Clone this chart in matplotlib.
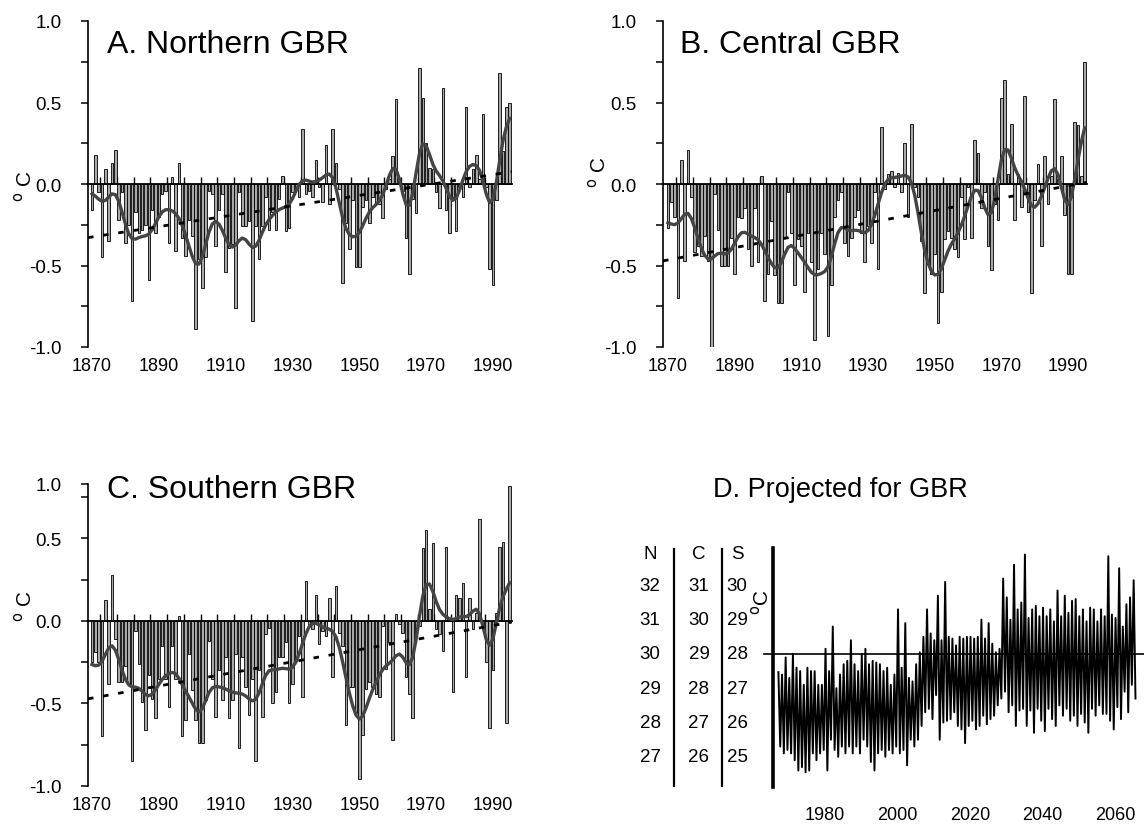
import matplotlib.pyplot as plt
import numpy as np
from matplotlib.ticker import FixedLocator, FixedFormatter, MultipleLocator

plt.rcParams["font.family"] = ["Liberation Sans", "DejaVu Sans"]
plt.rcParams["axes.unicode_minus"] = False

# annual SST anomalies (deg C), 1870-1995
years = np.arange(1870, 1996)

north_anom = [
    -0.16, 0.18, -0.05, -0.45, 0.09, -0.35, 0.13, 0.21, -0.22, -0.05,
    -0.36, -0.25, -0.72, -0.17, -0.30, -0.28, -0.25, -0.59, -0.16, -0.30,
    -0.20, -0.06, -0.04, -0.36, 0.04, -0.41, 0.13, -0.33, -0.44, -0.22,
    -0.32, -0.89, -0.46, -0.64, -0.45, -0.04, -0.06, -0.38, -0.16, -0.06,
    -0.54, -0.39, -0.37, -0.76, -0.05, -0.26, -0.26, -0.23, -0.84, -0.26,
    -0.46, -0.26, -0.08, -0.28, -0.17, -0.28, -0.09, 0.05, -0.29, -0.27,
    -0.05, -0.03, -0.08, 0.34, -0.06, -0.04, -0.08, 0.15, -0.02, -0.11,
    0.24, -0.12, 0.34, 0.13, -0.03, -0.61, -0.24, -0.40, -0.10, -0.51,
    -0.51, -0.14, -0.10, -0.24, -0.08, -0.11, -0.12, -0.21, -0.03, 0.03,
    0.17, 0.52, 0.02, -0.04, -0.33, -0.55, -0.09, -0.18, 0.71, 0.53,
    0.25, 0.10, 0.09, -0.05, -0.15, 0.59, -0.16, -0.30, -0.08, -0.29,
    -0.02, -0.08, 0.47, -0.02, 0.09, 0.18, 0.03, 0.43, -0.02, -0.52,
    -0.62, -0.10, 0.68, 0.20, 0.47, 0.50,
]

central_anom = [
    -0.27, -0.11, -0.20, -0.70, 0.15, -0.47, 0.21, -0.08, -0.42, -0.38,
    -0.44, -0.32, -0.47, -1.00, -0.06, -0.28, -0.50, -0.50, -0.50, -0.33,
    -0.55, -0.20, -0.21, -0.15, -0.40, -0.50, -0.15, -0.48, 0.05, -0.72,
    -0.55, -0.23, -0.56, -0.73, -0.73, -0.33, -0.05, -0.30, -0.62, -0.34,
    -0.38, -0.66, -0.30, -0.48, -0.96, -0.52, -0.30, -0.43, -0.93, -0.62,
    -0.20, -0.10, -0.05, -0.36, -0.44, -0.33, -0.20, -0.16, -0.30, -0.48,
    -0.26, -0.36, -0.05, -0.52, 0.35, -0.03, 0.06, 0.08, -0.02, 0.07,
    -0.05, 0.25, -0.20, 0.37, -0.02, -0.08, -0.35, -0.67, -0.48, -0.55,
    -0.43, -0.85, -0.66, -0.34, -0.29, -0.33, -0.40, -0.45, -0.08, -0.34,
    -0.02, -0.33, 0.27, 0.19, -0.15, -0.05, -0.38, -0.53, -0.12, -0.22,
    0.53, 0.64, 0.06, 0.37, -0.22, 0.06, -0.14, 0.54, -0.17, -0.67,
    -0.10, 0.12, -0.38, 0.17, -0.12, 0.05, 0.52, 0.03, 0.17, -0.19,
    -0.55, -0.55, 0.38, 0.36, 0.05, 0.75,
]

south_anom = [
    -0.25, -0.19, -0.25, -0.70, 0.13, -0.38, 0.28, -0.11, -0.37, -0.37,
    -0.27, -0.38, -0.85, -0.06, -0.26, -0.49, -0.66, -0.33, -0.47, -0.59,
    -0.35, -0.15, -0.35, -0.52, -0.15, -0.35, 0.03, -0.70, -0.60, -0.20,
    -0.42, -0.60, -0.74, -0.74, -0.48, -0.12, -0.35, -0.58, -0.30, -0.48,
    -0.22, -0.59, -0.48, -0.20, -0.77, -0.22, -0.40, -0.57, -0.35, -0.85,
    -0.30, -0.58, -0.08, -0.04, -0.50, -0.43, -0.22, -0.22, -0.13, -0.50,
    -0.38, -0.24, -0.09, -0.46, 0.24, -0.02, -0.05, 0.16, -0.14, -0.06,
    -0.09, 0.14, -0.34, 0.21, -0.07, -0.15, -0.63, -0.40, -0.40, -0.56,
    -0.96, -0.69, -0.41, -0.37, -0.40, -0.44, -0.46, -0.03, -0.29, -0.13,
    -0.72, 0.04, -0.02, -0.07, -0.34, -0.44, -0.59, -0.10, -0.03, 0.44,
    0.55, 0.07, 0.47, -0.05, -0.08, -0.18, 0.45, 0.01, -0.43, 0.16,
    0.14, 0.23, -0.34, 0.14, -0.05, 0.05, 0.62, -0.05, -0.25, -0.65,
    -0.30, 0.05, 0.45, 0.48, -0.62, 0.82,
]

decade_labels = ["1870", "1890", "1910", "1930", "1950", "1970", "1990"]
anom_ticks = ["-1.0", "-0.5", "0.0", "0.5", "1.0"]

# projected SST, seasonal highs and lows on the northern scale (deg C)
proj_years = np.arange(1967, 2066)
proj_summer = [
    29.47, 29.4, 29.9, 29.3, 30.0, 29.6, 29.5, 29.1, 29.6, 29.5,
    29.5, 29.1, 29.1, 30.15, 29.5, 30.8, 29.0, 29.4, 29.7, 29.8,
    30.4, 29.7, 29.5, 30.0, 30.15, 29.7, 29.8, 29.75, 29.7, 29.5,
    29.6, 29.1, 29.4, 31.3, 29.6, 30.9, 29.3, 29.2, 29.7, 30.05,
    30.5, 31.3, 30.6, 30.4, 31.7, 30.4, 32.1, 30.5, 30.45, 30.25,
    30.5, 30.45, 30.5, 30.5, 30.45, 30.5, 31.0, 30.45, 30.9, 30.3,
    30.05, 30.15, 32.2, 31.65, 31.0, 32.6, 31.3, 31.5, 32.9, 31.05,
    31.3, 31.4, 31.1, 31.35, 31.1, 31.3, 30.95, 31.85, 31.1, 31.7,
    31.2, 31.55, 31.6, 31.1, 31.3, 30.95, 31.35, 31.3, 30.95, 31.3,
    31.1, 32.85, 31.15, 31.05, 32.5, 30.8, 31.45, 31.65, 32.15,
]
proj_winter = [
    27.3, 27.1, 27.2, 27.1, 26.9, 26.6, 26.7, 26.55, 26.6, 27.1,
    26.9, 27.1, 27.2, 26.6, 27.5, 27.2, 27.0, 27.3, 27.1, 27.3,
    27.1, 27.3, 27.1, 27.5, 27.3, 26.85, 26.6, 27.1, 27.2, 27.0,
    27.2, 27.1, 27.3, 27.1, 27.2, 26.75, 27.5, 27.3, 27.5, 27.9,
    28.3, 28.4, 28.1, 28.8, 27.5, 28.0, 28.05, 28.1, 28.3, 27.9,
    27.8, 27.4, 27.9, 28.05, 27.8, 27.9, 28.2, 27.95, 28.1, 28.2,
    28.5, 28.7, 28.9, 28.3, 28.5, 27.9, 28.35, 28.4, 27.9, 28.35,
    27.7, 28.4, 28.05, 27.75, 28.4, 28.1, 27.9, 28.5, 28.2, 28.4,
    28.05, 28.2, 27.9, 28.25, 28.0, 27.7, 28.4, 28.2, 28.5, 28.25,
    28.25, 28.05, 27.8, 28.45, 28.1, 28.9, 28.3, 29.1, 28.7,
]
scale_north = [32, 31, 30, 29, 28, 27]
scale_central = [31, 30, 29, 28, 27, 26]
scale_south = [30, 29, 28, 27, 26, 25]
threshold_north = 30
proj_labels = ["1980", "2000", "2020", "2040", "2060"]

W, H = 1144, 829
fig = plt.figure(figsize=(W / 100, H / 100), dpi=100)


def axes_px(left, top, right, bottom):
    return fig.add_axes([left / W, 1 - bottom / H, (right - left) / W, (bottom - top) / H])


def gaussian_filter(values, sigma=2.0, half=6):
    v = np.asarray(values, dtype=float)
    k = np.arange(-half, half + 1)
    w = np.exp(-0.5 * (k / sigma) ** 2)
    out = np.empty_like(v)
    for i in range(len(v)):
        lo, hi = max(0, i - half), min(len(v), i + half + 1)
        ww = w[lo - i + half:hi - i + half]
        out[i] = np.sum(ww * v[lo:hi]) / ww.sum()
    return out


def fig_label(x, y, text, **kw):
    fig.text(x / W, 1 - y / H, text, **kw)


def anomaly_panel(ax, values, xlim, top=1.0):
    ax.bar(years, values, width=0.76, color="#a8a8a8", edgecolor="black",
           linewidth=0.6, zorder=2)
    ax.plot(years, gaussian_filter(values), color="#444444", lw=2.4, zorder=3)
    slope, icpt = np.polyfit(years, values, 1)
    tx = np.array(xlim)
    ax.plot(tx, icpt + slope * tx, color="black", lw=2.0, ls=(0, (2, 3.5)), zorder=4)

    ax.set_xlim(*xlim)
    ax.set_ylim(-1.0, top)
    for side in ("top", "right"):
        ax.spines[side].set_visible(False)
    ax.spines["left"].set_linewidth(1.2)
    ax.spines["bottom"].set_position(("data", 0))
    ax.spines["bottom"].set_linewidth(1.3)

    # the uppermost tick sits at the top of the axis line
    ax.yaxis.set_major_locator(FixedLocator([-1.0, -0.5, 0.0, 0.5, top]))
    ax.yaxis.set_major_formatter(FixedFormatter(anom_ticks))
    ax.yaxis.set_minor_locator(MultipleLocator(0.25))
    ax.tick_params(axis="y", which="both", direction="out", length=5, width=1.1,
                   labelsize=13.5, pad=14)

    ax.xaxis.set_major_locator(FixedLocator(np.arange(1872.5, 1996, 5)))
    ax.tick_params(axis="x", direction="in", length=5, width=1.0, labelbottom=False)

    sec = ax.secondary_xaxis("bottom")
    sec.set_xticks([int(s) for s in decade_labels], decade_labels)
    sec.spines["bottom"].set_visible(False)
    sec.tick_params(length=0, labelsize=13, pad=7)
    ax.patch.set_visible(False)


ax_a = axes_px(88, 22, 512, 348)
anomaly_panel(ax_a, north_anom, (1868.8, 1995.7))
ax_b = axes_px(663, 22, 1087, 348)
anomaly_panel(ax_b, central_anom, (1868.5, 1995.7))
ax_c = axes_px(88, 485, 512, 787)
anomaly_panel(ax_c, south_anom, (1868.8, 1995.7), top=0.83)

title_kw = dict(fontsize=23, va="center", ha="left")
fig_label(107, 45, "A. Northern GBR", **title_kw)
fig_label(680, 45, "B. Central GBR", **title_kw)
fig_label(107, 490, "C. Southern GBR", **title_kw)
fig_label(713, 490, "D. Projected for GBR", fontsize=19.5, va="center", ha="left")

unit_kw = dict(fontsize=15, rotation=90, va="center", ha="center")
fig_label(24, 186, r"$^{\rm o}$ C", **unit_kw)
fig_label(598, 172, r"$^{\rm o}$ C", **unit_kw)
fig_label(24, 606, r"$^{\rm o}$ C", **unit_kw)
fig_label(761, 602, r"$^{\rm o}$C", **unit_kw)

# D: projected monthly series
ax_d = axes_px(773, 549, 1144, 788)
t = np.column_stack([proj_years + 0.15, proj_years + 0.65]).ravel()
sst = np.column_stack([proj_summer, proj_winter]).ravel()
ax_d.plot(t, sst, color="black", lw=1.4)
ax_d.set_xlim(1965.66, 2068.0)
ax_d.set_ylim(26.12, 33.09)
ax_d.axhline(threshold_north, xmin=-0.024, xmax=1.0, color="black", lw=1.2, clip_on=False)
for side in ("top", "right", "bottom"):
    ax_d.spines[side].set_visible(False)
ax_d.spines["left"].set_linewidth(2.6)
ax_d.set_yticks([])
ax_d.set_xticks([int(s) for s in proj_labels], proj_labels)
ax_d.tick_params(axis="x", length=0, labelsize=13, pad=14)
ax_d.patch.set_visible(False)

# the three temperature scales to the left of panel D
col_tr = ax_d.get_yaxis_transform()
columns = [(-0.3315, "N", scale_north), (-0.1995, "C", scale_central), (-0.097, "S", scale_south)]
for xf, head, vals in columns:
    ax_d.text(xf, 32.92, head, transform=col_tr, fontsize=13.5, ha="center", va="center")
    for yv, lab in zip(scale_north, vals):
        ax_d.text(xf, yv, str(lab), transform=col_tr, fontsize=13.5, ha="center", va="center")
for xf in (-0.267, -0.137):
    ax_d.plot([xf, xf], [26.15, 33.06], transform=col_tr, color="black", lw=1.6, clip_on=False)

fig.savefig("out.png", dpi=100)
